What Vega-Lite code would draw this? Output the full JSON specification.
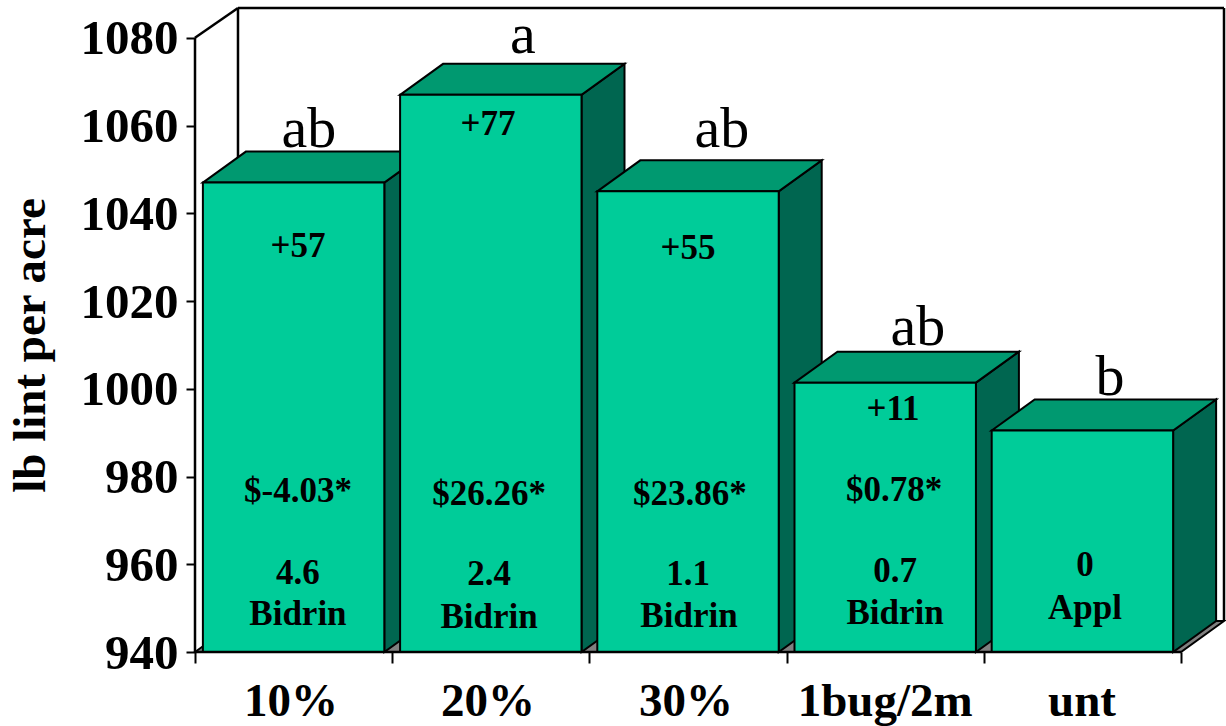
{"$schema":"https://vega.github.io/schema/vega-lite/v6.json","width":1029,"height":644,"autosize":{"type":"none"},"padding":{"left":195,"top":8,"right":2,"bottom":74},"background":"white","view":{"stroke":null},
"datasets":{
"faces":[
{"part":"floor","face":"floor","pos":0,"upper":940,"lower":940},{"part":"floor","face":"floor","pos":0.218,"upper":947.07,"lower":940},{"part":"floor","face":"floor","pos":5,"upper":947.07,"lower":940},{"part":"floor","face":"floor","pos":5.218,"upper":947.07,"lower":947.07},
{"part":"10-side","face":"side","pos":0.96,"upper":1047,"lower":940},{"part":"10-side","face":"side","pos":1.178,"upper":1054.07,"lower":947.07},
{"part":"10-top","face":"top","pos":0.04,"upper":1047,"lower":1047},{"part":"10-top","face":"top","pos":0.258,"upper":1054.07,"lower":1047},{"part":"10-top","face":"top","pos":0.96,"upper":1054.07,"lower":1047},{"part":"10-top","face":"top","pos":1.178,"upper":1054.07,"lower":1054.07},
{"part":"10-front","face":"front","pos":0.04,"upper":1047,"lower":940},{"part":"10-front","face":"front","pos":0.96,"upper":1047,"lower":940},
{"part":"20-side","face":"side","pos":1.96,"upper":1067,"lower":940},{"part":"20-side","face":"side","pos":2.178,"upper":1074.07,"lower":947.07},
{"part":"20-top","face":"top","pos":1.04,"upper":1067,"lower":1067},{"part":"20-top","face":"top","pos":1.258,"upper":1074.07,"lower":1067},{"part":"20-top","face":"top","pos":1.96,"upper":1074.07,"lower":1067},{"part":"20-top","face":"top","pos":2.178,"upper":1074.07,"lower":1074.07},
{"part":"20-front","face":"front","pos":1.04,"upper":1067,"lower":940},{"part":"20-front","face":"front","pos":1.96,"upper":1067,"lower":940},
{"part":"30-side","face":"side","pos":2.96,"upper":1045,"lower":940},{"part":"30-side","face":"side","pos":3.178,"upper":1052.07,"lower":947.07},
{"part":"30-top","face":"top","pos":2.04,"upper":1045,"lower":1045},{"part":"30-top","face":"top","pos":2.258,"upper":1052.07,"lower":1045},{"part":"30-top","face":"top","pos":2.96,"upper":1052.07,"lower":1045},{"part":"30-top","face":"top","pos":3.178,"upper":1052.07,"lower":1052.07},
{"part":"30-front","face":"front","pos":2.04,"upper":1045,"lower":940},{"part":"30-front","face":"front","pos":2.96,"upper":1045,"lower":940},
{"part":"1bug-side","face":"side","pos":3.96,"upper":1001.4,"lower":940},{"part":"1bug-side","face":"side","pos":4.178,"upper":1008.47,"lower":947.07},
{"part":"1bug-top","face":"top","pos":3.04,"upper":1001.4,"lower":1001.4},{"part":"1bug-top","face":"top","pos":3.258,"upper":1008.47,"lower":1001.4},{"part":"1bug-top","face":"top","pos":3.96,"upper":1008.47,"lower":1001.4},{"part":"1bug-top","face":"top","pos":4.178,"upper":1008.47,"lower":1008.47},
{"part":"1bug-front","face":"front","pos":3.04,"upper":1001.4,"lower":940},{"part":"1bug-front","face":"front","pos":3.96,"upper":1001.4,"lower":940},
{"part":"unt-side","face":"side","pos":4.96,"upper":990.5,"lower":940},{"part":"unt-side","face":"side","pos":5.178,"upper":997.57,"lower":947.07},
{"part":"unt-top","face":"top","pos":4.04,"upper":990.5,"lower":990.5},{"part":"unt-top","face":"top","pos":4.258,"upper":997.57,"lower":990.5},{"part":"unt-top","face":"top","pos":4.96,"upper":997.57,"lower":990.5},{"part":"unt-top","face":"top","pos":5.178,"upper":997.57,"lower":997.57},
{"part":"unt-front","face":"front","pos":4.04,"upper":990.5,"lower":940},{"part":"unt-front","face":"front","pos":4.96,"upper":990.5,"lower":940}
],
"frame":[
{"a":0,"b":0,"c":940,"d":1080},{"a":0,"b":0.218,"c":1080,"d":1086.8},{"a":0.218,"b":0.218,"c":947.07,"d":1086.8},{"a":0.218,"b":5.218,"c":1086.8,"d":1086.8},{"a":5.218,"b":5.218,"c":947.07,"d":1086.8}
],
"base":[{"a":0,"b":5,"c":940,"d":940}],
"notes":[
{"label":"+57","pos":0.522,"lint":1032.7},{"label":"$-4.03*","pos":0.522,"lint":977.0},{"label":"4.6","pos":0.522,"lint":958.3},{"label":"Bidrin","pos":0.522,"lint":948.9},
{"label":"+77","pos":1.486,"lint":1060.6},{"label":"$26.26*","pos":1.491,"lint":976.3},{"label":"2.4","pos":1.491,"lint":958.0},{"label":"Bidrin","pos":1.491,"lint":948.2},
{"label":"+55","pos":2.5,"lint":1032.3},{"label":"$23.86*","pos":2.51,"lint":976.3},{"label":"1.1","pos":2.5,"lint":958.0},{"label":"Bidrin","pos":2.505,"lint":948.4},
{"label":"+11","pos":3.54,"lint":995.7},{"label":"$0.78*","pos":3.545,"lint":977.2},{"label":"0.7","pos":3.55,"lint":958.7},{"label":"Bidrin","pos":3.55,"lint":949.1},
{"label":"0","pos":4.513,"lint":960.1},{"label":"Appl","pos":4.513,"lint":950.3}
],
"letters":[
{"label":"ab","pos":0.578,"lint":1055.3},{"label":"a","pos":1.663,"lint":1076.8},{"label":"ab","pos":2.672,"lint":1055.3},{"label":"ab","pos":3.666,"lint":1010.1},{"label":"b","pos":4.64,"lint":998.7}
],
"cats":[
{"label":"10%","pos":0.487,"lint":940},{"label":"20%","pos":1.486,"lint":940},{"label":"30%","pos":2.49,"lint":940},{"label":"1bug/2m","pos":3.5,"lint":940},{"label":"unt","pos":4.498,"lint":940}
]},
"layer":[
{"data":{"name":"frame"},"mark":{"type":"rule","stroke":"black","strokeWidth":2.5},"encoding":{"x":{"field":"a","type":"quantitative","scale":{"domain":[0,5.218],"nice":false,"zero":false},"axis":{"values":[0,1,2,3,4,5],"labels":false,"domain":false,"grid":false,"ticks":true,"tickSize":11,"tickWidth":2,"tickColor":"black","title":null}},"x2":{"field":"b"},"y":{"field":"c","type":"quantitative","scale":{"domain":[940,1086.8],"nice":false,"zero":false},"axis":{"values":[940,960,980,1000,1020,1040,1060,1080],"format":"d","domain":false,"grid":false,"tickSize":9,"tickWidth":2,"tickColor":"black","labelPadding":8,"labelOffset":1,"labelFont":"Liberation Serif","labelFontWeight":"bold","labelFontSize":49,"labelColor":"black","title":"lb lint per acre","titleFont":"Liberation Serif","titleFontWeight":"bold","titleFontSize":47,"titleColor":"black","titleX":-165,"titleY":337,"titleAngle":-90,"titleBaseline":"middle","titleAlign":"center"}},"y2":{"field":"d"}}},
{"data":{"name":"faces"},"mark":{"type":"area","stroke":"black","strokeWidth":2,"interpolate":"linear","opacity":1},
"encoding":{
"x":{"field":"pos","type":"quantitative"},
"y":{"field":"upper","type":"quantitative","stack":null},
"y2":{"field":"lower"},
"detail":{"field":"part"},
"color":{"field":"face","type":"nominal","scale":{"domain":["floor","side","top","front"],"range":["#808080","#006650","#009970","#00CC99"]},"legend":null}}},
{"data":{"name":"base"},"mark":{"type":"rule","stroke":"black","strokeWidth":2.5},"encoding":{"x":{"field":"a","type":"quantitative"},"x2":{"field":"b"},"y":{"field":"c","type":"quantitative"},"y2":{"field":"d"}}},
{"data":{"name":"notes"},"mark":{"type":"text","font":"Liberation Serif","fontWeight":"bold","fontSize":35,"color":"black","align":"center","baseline":"middle","dy":1},"encoding":{"x":{"field":"pos","type":"quantitative"},"y":{"field":"lint","type":"quantitative"},"text":{"field":"label"}}},
{"data":{"name":"letters"},"mark":{"type":"text","font":"Liberation Serif","fontSize":58,"color":"black","align":"center","baseline":"alphabetic","dy":1},"encoding":{"x":{"field":"pos","type":"quantitative"},"y":{"field":"lint","type":"quantitative"},"text":{"field":"label"}}},
{"data":{"name":"cats"},"mark":{"type":"text","font":"Liberation Serif","fontWeight":"bold","fontSize":47,"color":"black","align":"center","baseline":"middle","dy":50},"encoding":{"x":{"field":"pos","type":"quantitative"},"y":{"field":"lint","type":"quantitative"},"text":{"field":"label"}}}
]}
